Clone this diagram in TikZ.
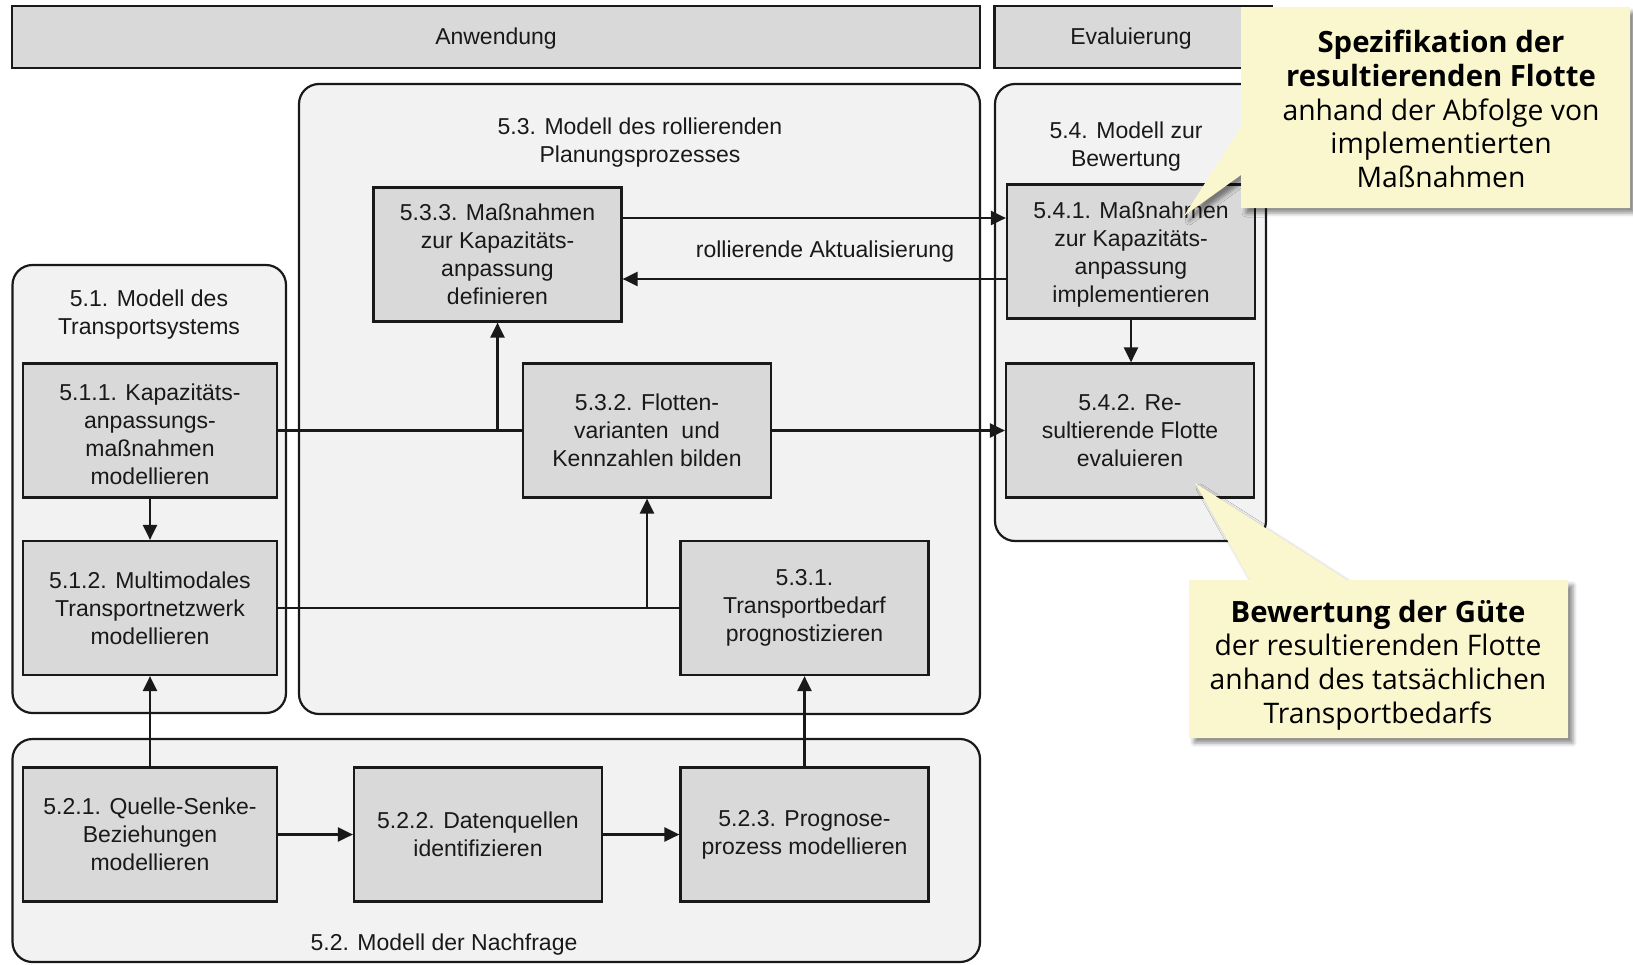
\documentclass[tikz,border=0pt]{standalone}
\usepackage{fontspec}
\setmainfont{Liberation Sans}
\newfontfamily\calloutfont{Open Sans}
\usetikzlibrary{arrows.meta,shadows.blur}
\definecolor{callfill}{RGB}{250,247,206}
\definecolor{panelfill}{RGB}{242,242,242}
\definecolor{boxfill}{RGB}{217,217,217}
\definecolor{ink}{RGB}{25,25,25}

\newcommand{\calloutbold}[1]{{\fontsize{29.3}{34}\selectfont\bfseries #1}}

\begin{document}
\begin{tikzpicture}[x=1pt,y=-1pt,
  every node/.style={font=\fontsize{23}{28}\selectfont, text=ink},
  panel/.style={draw=ink, line width=2.2pt, fill=panelfill, rounded corners=20pt},
  bar/.style={draw=ink, line width=2.2pt, fill=boxfill},
  stepbox/.style={draw=ink, line width=2.2pt, fill=boxfill, align=center,
    inner sep=0pt, minimum width=248pt, minimum height=134pt},
  widebox/.style={stepbox, minimum width=254pt},
  link/.style={line width=2.3pt, draw=ink},
  flow/.style={link, -{Triangle[length=15pt,width=14pt]}},
  callout/.style={fill=callfill, blur shadow={shadow xshift=5pt, shadow yshift=-5pt,
    shadow blur radius=4pt, shadow opacity=45}},
  callouttext/.style={font=\calloutfont\fontsize{28.3}{33.6}\selectfont, text=black, align=center},
  paneltitle/.style={align=center},
]
\useasboundingbox (0,0) rectangle (1633,964);

% header bars
\node[bar, minimum width=968pt, minimum height=62pt, inner sep=0pt] (anw) at (496,37) {};
\node (anwlabel) at (496,39) {Anwendung};
\node[bar, minimum width=277pt, minimum height=62pt, inner sep=0pt] (eval) at (1133,37) {};
\node (evallabel) at (1131,39) {Evaluierung};

% model panels
\draw[panel] (299,84) rectangle (980,714);
\draw[panel] (995,84) rectangle (1266,541);
\draw[panel] (12.5,265) rectangle (286,713);
\draw[panel] (12.5,739) rectangle (980,962);

\node[paneltitle] (p53) at (640,143) {5.3. Modell des rollierenden\\Planungsprozesses};
\node[paneltitle] (p54) at (1126,147) {5.4. Modell zur\\Bewertung};
\node[paneltitle] (p51) at (149,315) {5.1. Modell des\\Transportsystems};
\node (p52) at (444,945) {5.2. Modell der Nachfrage};

% process steps
\node[stepbox] (b533) at (497.5,254.5) {5.3.3. Maßnahmen\\zur Kapazitäts-\\anpassung\\definieren};
\node[stepbox] (b541) at (1131,251.5) {\\[-6pt]5.4.1. Maßnahmen\\zur Kapazitäts-\\anpassung\\implementieren};
\node[widebox] (b511) at (150,430.5) {\\[-4pt]5.1.1. Kapazitäts-\\anpassungs-\\maßnahmen\\modellieren};
\node[stepbox] (b532) at (647,430.5) {5.3.2. Flotten-\\varianten\ \ und\\Kennzahlen bilden};
\node[stepbox] (b542) at (1130,430.5) {5.4.2. Re-\\sultierende Flotte\\evaluieren};
\node[widebox] (b512) at (150,608) {5.1.2. Multimodales\\Transportnetzwerk\\modellieren};
\node[stepbox] (b531) at (804.5,608) {5.3.1.\\Transportbedarf\\prognostizieren};
\node[widebox] (b521) at (150,834.5) {5.2.1. Quelle-Senke-\\Beziehungen\\modellieren};
\node[stepbox] (b522) at (478,834.5) {5.2.2. Datenquellen\\identifizieren};
\node[stepbox] (b523) at (804.5,834.5) {5.2.3. Prognose-\\prozess modellieren};

% connectors
\coordinate (r1) at (0,218);
\coordinate (r2) at (0,279);
\draw[flow] (b533.east |- r1) -- (b541.west |- r1);
\draw[flow] (b541.west |- r2) -- (b533.east |- r2);
\node (upd) at (825,252) {rollierende Aktualisierung};

\draw[link] (b511.east) -- (b532.west);
\draw[flow] (b533.south |- b511.east) -- (b533.south);
\draw[flow] (b532.east) -- (b542.west);
\draw[link] (b512.east) -- (b531.west);
\draw[flow] (b532.south |- b512.east) -- (b532.south);
\draw[flow] (b511.south) -- (b512.north);
\draw[flow] (b521.north) -- (b512.south);
\draw[flow] (b523.north) -- (b531.south);
\draw[flow] (b521.east) -- (b522.west);
\draw[flow] (b522.east) -- (b523.west);
\draw[flow] (b541.south) -- (b541.south |- b542.north);

% callouts
\path[callout] (1241,7) -- (1630,7) -- (1630,208) -- (1241,208) -- (1241,175)
  -- (1184,216) -- (1241,127) -- cycle;
\node[callouttext] (c1) at (1441,109)
  {\calloutbold{Spezifikation der}\\\calloutbold{resultierenden Flotte}\\anhand der Abfolge von\\implementierten\\Maßnahmen};

\path[callout] (1189,580) -- (1250,580) -- (1195,483) -- (1347,580) -- (1568,580)
  -- (1568,738) -- (1189,738) -- cycle;
\node[callouttext] (c2) at (1378,665)
  {\calloutbold{Bewertung der Güte}\\der resultierenden Flotte\\anhand des tatsächlichen\\Transportbedarfs};
\end{tikzpicture}
\end{document}
